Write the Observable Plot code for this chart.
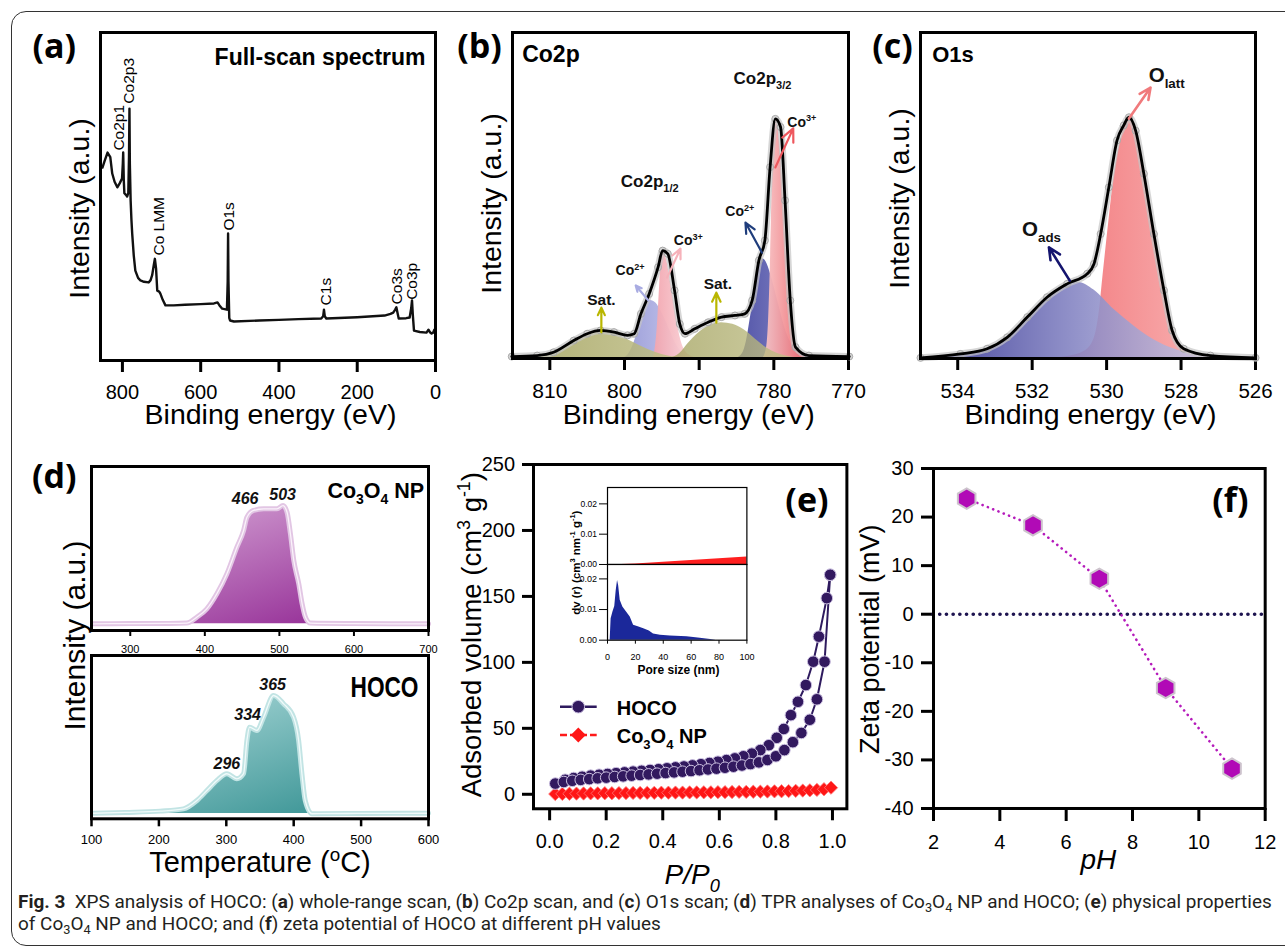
<!DOCTYPE html>
<html>
<head>
<meta charset="utf-8">
<script src="https://cdn.jsdelivr.net/npm/d3@7"></script>
<script src="https://cdn.jsdelivr.net/npm/@observablehq/plot@0.6"></script>
<style>
html, body { margin: 0; padding: 0; background: #fff; }
#fig { position: relative; width: 1285px; height: 947px; overflow: hidden; background: #fff; }
#border { position: absolute; left: 11px; top: 11px; width: 1320px; height: 935px; border: 1.3px solid #333; border-radius: 15px; box-sizing: border-box; }
</style>
</head>
<body>
<div id="fig"><div id="border"></div></div>
<svg width="0" height="0" style="position:absolute;left:0;top:0">
<defs>
 <linearGradient id="gOlive" x1="0" y1="0" x2="1" y2="0"><stop offset="0" stop-color="#a3a25e"/><stop offset="1" stop-color="#c2c18a"/></linearGradient>
 <linearGradient id="gLav" x1="0" y1="0" x2="1" y2="0"><stop offset="0" stop-color="#9598d6"/><stop offset="1" stop-color="#c8c8ee"/></linearGradient>
 <linearGradient id="gPink12" x1="0" y1="0" x2="1" y2="0"><stop offset="0" stop-color="#f2a3ad"/><stop offset="1" stop-color="#fbdfe3"/></linearGradient>
 <linearGradient id="gBlue32" x1="0" y1="0" x2="1" y2="0"><stop offset="0" stop-color="#484aa3"/><stop offset="1" stop-color="#8f91cc"/></linearGradient>
 <linearGradient id="gRed32" x1="0" y1="0" x2="1" y2="0"><stop offset="0" stop-color="#f8c9cb"/><stop offset="1" stop-color="#ec5a60"/></linearGradient>
 <linearGradient id="gPinkC" x1="0" y1="0" x2="1" y2="0"><stop offset="0" stop-color="#f27478"/><stop offset="1" stop-color="#f9bcbc"/></linearGradient>
 <linearGradient id="gBlueC" x1="0" y1="0" x2="1" y2="0"><stop offset="0" stop-color="#3c3c97" stop-opacity="0.97"/><stop offset="0.5" stop-color="#8a8ac6" stop-opacity="0.9"/><stop offset="1" stop-color="#d4d4ea" stop-opacity="0.8"/></linearGradient>
 <linearGradient id="gPurple" x1="0" y1="0" x2="1" y2="1"><stop offset="0" stop-color="#dcb2dc"/><stop offset="1" stop-color="#8a1a8c"/></linearGradient>
 <linearGradient id="gTeal" x1="0" y1="0" x2="1" y2="1"><stop offset="0" stop-color="#b6dfdf"/><stop offset="1" stop-color="#28898a"/></linearGradient>
</defs>
</svg>
<script>
// ======================= DATA =======================
// (a) XPS full-scan spectrum: [binding energy eV, intensity a.u.]
const aSpectrum = [[851,58.8],[845,61],[838,63.4],[831,62],[826,57],[820,54.5],[813,52.8],[807,54],[801,55.5],[799,60],[798,63.4],[796.5,55],[795,51],[791,50.5],[788,50],[785,51],[783.2,62],[782,76.8],[781,60],[779,48.8],[777,43],[775,38.7],[771,32],[767,27.4],[760,25.2],[754,24.4],[745,24],[733,23.8],[728,24.5],[724,26],[720,29],[717,31],[714,28],[711,21.3],[706,21],[703,20.4],[697,18.5],[690,16.8],[669,16.8],[640,17],[600,17.2],[566,17.4],[557,17.7],[552,16.8],[545,15.8],[533,15.5],[531,24],[530,38.7],[529,24],[527,13],[525,12.2],[515,11.9],[450,12.2],[400,12.4],[350,12.6],[292,12.8],[287,13.5],[285,15.5],[283,13.5],[279,12.8],[200,13.2],[130,13.7],[115,14.2],[108,14.6],[103,15.5],[100,16.2],[97,14.5],[94,12.8],[75,12.9],[66,13.1],[62,16],[60,18.3],[58,14],[55,9.1],[40,8.7],[23,8.5],[18,9.4],[14,8.6],[10,8.2],[6,8.5],[3,9.4],[1,9.2]];
const aPeakLabels = [["Co2p1",796.7,64],["Co2p3",771,78.3],["Co LMM",694,32],["O1s",514.6,39.6],["C1s",266.7,16.8],["Co3s",85.4,17.1],["Co3p",47,18.5]];
const aTicks = [800,600,400,200,0];

// (b) Co2p: envelope and fitted components [eV, intensity]
const bEnvelope = [[815.1,0.6],[811.7,0.9],[809.5,1.9],[806.8,5.5],[805,7.6],[803.2,8.6],[801.4,8.1],[799.6,7.1],[798.7,7.6],[797.8,13.7],[796.7,19.8],[795.5,28],[794.9,33.1],[794.2,32.1],[793.3,20.9],[792.6,10.6],[791.9,7.6],[790.6,9.1],[788.8,11.1],[787,12.7],[785.2,13.2],[783.9,13.7],[782.9,17.8],[782,30.1],[781.2,36.2],[780.5,58.7],[779.8,73.5],[779.1,71],[778.5,48.5],[777.8,17.8],[777.1,3.5],[775.3,0.9],[769.9,0.6]];
const bSat1 = [[813,0],[811,0.9],[809,2.6],[807,5.2],[805,7.3],[803.2,8.3],[801.5,7.7],[800,6.3],[798,4],[796,2],[794,0.7],[792,0]];
const bSat2 = [[794,0],[792.6,1.5],[791.5,4.5],[790,8],[788.5,10.3],[787,11],[785.5,10.5],[784,8.8],[782.5,6],[781,3.3],[779.5,1.5],[777.5,0.4],[776,0]];
const bCo2Half = [[800.2,0],[799.4,1.5],[798.7,5],[797.9,11],[797.1,16],[796.5,17.8],[795.8,17],[795,14],[794,9],[793,4],[792,1.2],[791,0]];
const bCo3Half = [[796.2,0],[795.9,3],[795.6,10],[795.35,20],[795.15,28],[794.9,32.5],[794.4,30.5],[793.8,23],[793.2,14.5],[792.6,7],[792,2.8],[791,0.6],[790,0]];
const bCo2ThreeHalf = [[785,0],[784.2,1.5],[783.7,5],[783.1,13],[782.5,22],[781.9,28.5],[781.4,30.5],[780.9,29],[780.2,24],[779.3,16],[778.4,8.5],[777.5,4],[776.3,1.5],[774.5,0.3],[773,0]];
const bCo3ThreeHalf = [[781.5,0],[781,3],[780.7,12],[780.45,30],[780.25,50],[780.05,66],[779.85,73],[779.5,71.5],[779.1,63],[778.7,48],[778.3,31],[777.9,17],[777.4,7],[776.8,2.5],[776,0.6],[775,0]];
const bGroupLabels = [["Co2p_{3/2}",785.4,84.3],["Co2p_{1/2}",800.5,52.5]];
const bIonLabels = [["Co^{3+}",778.2,71],["Co^{3+}",793.4,34.7],["Co^{2+}",786.5,43.6],["Co^{2+}",801.2,25.5]];
const bSatLabels = [["Sat.",805,16.3],["Sat.",789.4,21.4]];
// arrows: [peak, E1, v1, E2, v2]
const bArrows = [["Co3+ 3/2",779.8,58.6,777.4,70.6],["Co2+ 3/2",781.6,32.5,783.8,41.7],["Co3+ 1/2",794.3,24.8,792.5,33.7],["Co2+ 1/2",796.8,17.8,798.5,22.4],["Sat",803.1,8,803.1,15.6],["Sat",787.7,11,787.7,20.2]];
const bTicks = [810,800,790,780,770];

// (c) O1s
const cEnvelope = [[535,0.2],[533.93,1.4],[533.21,3],[532.67,6.5],[532.13,12.7],[531.6,18.8],[531.06,22.9],[530.52,26],[530.34,29],[530.16,38.2],[529.94,52.5],[529.72,66.9],[529.54,71.5],[529.4,74],[529.22,69.9],[529,56.7],[528.73,38.2],[528.46,20.9],[528.24,8.6],[527.93,3],[527.21,0.9],[526,0.2]];
const cOads = [[535,0.2],[533.93,1.3],[533.21,2.9],[532.67,6.2],[532.13,12.3],[531.6,18.2],[531.06,22.4],[530.77,23.4],[530.34,21],[529.8,15],[529.25,9.8],[528.72,5.7],[528.2,3],[527.64,1.3],[527,0.4],[526.3,0.1]];
const cOlatt = [[531.6,0],[531.06,0.6],[530.6,2.2],[530.34,6],[530.2,14],[530.1,25],[529.94,42],[529.8,56],[529.62,67],[529.47,72.5],[529.38,73.8],[529.22,70],[529,57],[528.73,38.5],[528.46,21],[528.24,9.2],[527.95,3.5],[527.5,1],[527,0.2],[526.5,0]];
const cLabels = [["O_{latt}",528.87,84.8],["O_{ads}",532.27,37.7]];
const cArrows = [["latt",529.4,73.6,528.82,83.1],["ads",530.99,23.9,531.55,34.1]];
const cTicks = [534,532,530,528,526];

// (d) TPR profiles [temperature °C, intensity]
const dCo3O4 = [[250,4.1],[300,4.2],[350,4.3],[375.7,4.5],[389.2,8.1],[402.6,13.2],[416.1,22.4],[429.6,34.6],[443,50.8],[452,61],[456.5,69.1],[465.4,73.2],[478.9,74.2],[496.8,74.2],[504.9,76.2],[510.3,72.1],[514.8,59],[519.3,42.7],[526,28.5],[530.5,16.3],[535,8.1],[541.7,4.5],[600,4.2],[650,4.1],[700,4.1]];
const dCo3O4Base = 4.1;
const dCo3O4Peaks = [["466",454.1,77.3],["503",504.4,79.7]];
const dHOCO = [[103,3.4],[150,3.9],[202,4.7],[236.5,6.1],[256.4,11.2],[271.2,17.3],[286.1,23.5],[300.9,27.6],[315.7,24.5],[325.6,27.6],[330.6,48],[334.5,56.1],[345.4,54.1],[355.3,62.2],[370.1,75.5],[385,70.4],[399.8,62.2],[407.3,48],[412.2,27.6],[417.1,11.2],[427,3.1],[500,3.3],[600,3.4]];
const dHOCOBase = 3.2;
const dHOCOPeaks = [["296",300.9,30.6],["334",331.7,60.2],["365",368.8,78.6]];
const dTopTicks = [300,400,500,600,700];
const dBottomTicks = [100,200,300,400,500,600];

// (e) N2 isotherms [P/P0, adsorbed volume]
const hocoAds = [[0.02,8.1],[0.05,9.3],[0.08,10.2],[0.11,10.9],[0.14,11.5],[0.17,12.1],[0.2,12.6],[0.23,13.1],[0.26,13.6],[0.29,14.1],[0.32,14.6],[0.35,15.1],[0.38,15.6],[0.41,16.1],[0.44,16.6],[0.47,17.1],[0.5,17.6],[0.53,18.2],[0.56,18.8],[0.59,19.4],[0.62,20.1],[0.65,20.9],[0.68,21.8],[0.71,22.9],[0.74,24.2],[0.77,26],[0.8,28.8],[0.83,33.5],[0.86,39.5],[0.89,46.5],[0.92,56.5],[0.945,72],[0.972,100.5],[0.992,166.4]];
const hocoDes = [[0.992,166.4],[0.98,148.7],[0.952,119.5],[0.932,100.5],[0.906,82.8],[0.878,70.1],[0.853,60],[0.828,49.5],[0.803,42.8],[0.775,37.2],[0.745,33.5],[0.715,30.8],[0.685,28.8],[0.655,27.2],[0.625,25.9],[0.595,24.7],[0.565,23.7],[0.535,22.8],[0.505,21.9],[0.475,21.1],[0.445,20.4],[0.415,19.7],[0.385,19],[0.355,18.4],[0.325,17.8],[0.295,17.2],[0.265,16.6],[0.235,16],[0.205,15.4],[0.175,14.8],[0.145,14.1],[0.115,13.3],[0.085,12.3],[0.055,11]];
const co3o4Iso = [[0.02,0.2],[0.045,0.3],[0.07,0.4],[0.095,0.5],[0.12,0.6],[0.145,0.7],[0.17,0.7],[0.195,0.8],[0.22,0.8],[0.245,0.9],[0.27,0.9],[0.295,1],[0.32,1],[0.345,1.1],[0.37,1.1],[0.395,1.2],[0.42,1.2],[0.445,1.3],[0.47,1.3],[0.495,1.4],[0.52,1.4],[0.545,1.5],[0.57,1.5],[0.595,1.6],[0.62,1.6],[0.645,1.7],[0.67,1.8],[0.695,1.8],[0.72,1.9],[0.745,2],[0.77,2.1],[0.795,2.2],[0.82,2.3],[0.845,2.4],[0.87,2.6],[0.895,2.8],[0.92,3],[0.945,3.3],[0.97,3.8],[0.995,5]];
const eXTicks = [0,0.2,0.4,0.6,0.8,1.0];
const eYTicks = [0,50,100,150,200,250];
const eSeries = ["HOCO","Co_{3}O_{4} NP"];
// inset: pore size distribution [nm, dV]
const poreCo3O4 = [[0,0],[10,0],[20,0.0002],[40,0.0007],[60,0.0013],[80,0.0019],[100,0.0025]];
const poreHOCO = [[1.9,0],[2.6,0.007],[3.9,0.0092],[5.2,0.011],[6.2,0.016],[7.2,0.0195],[8,0.0178],[9.1,0.013],[11,0.0108],[13.5,0.0093],[16.3,0.0076],[18.7,0.0049],[22,0.0044],[26,0.0037],[30,0.003],[33,0.002],[38,0.0016],[45,0.0014],[57,0.0011],[65,0.0007],[74,0.0002],[78,0]];
const insetXTicks = [0,20,40,60,80,100];
const insetYTicks = [0,0.01,0.02];

// (f) zeta potential
const pH = [3,5,7,9,11];
const zeta = [23.8,18.3,7.3,-15.2,-31.8];
const fXTicks = [2,4,6,8,10,12];
const fYTicks = [-40,-30,-20,-10,0,10,20,30];

// ======================= HELPERS =======================
const fig = document.getElementById("fig");
const FONT = "'Liberation Sans', Arial, Helvetica, sans-serif";
const LETTERFONT = "'Open Sans', 'Liberation Sans', sans-serif";
const pts = (arr, kx, ky) => arr.map(([a, b]) => ({[kx]: a, [ky]: b}));
const lab = (arr, kx, ky) => arr.map(([t, a, b]) => ({t, [kx]: a, [ky]: b}));

const diamondSym = {draw(ctx, size) { const r = Math.sqrt(size) * 0.62625; ctx.moveTo(0, -r); ctx.lineTo(r, 0); ctx.lineTo(0, r); ctx.lineTo(-r, 0); ctx.closePath(); }};
const hexSym = {draw(ctx, size) { const rx = Math.sqrt(size / Math.PI), ry = rx * 2 / Math.sqrt(3), hy = ry / 2; ctx.moveTo(0, ry); ctx.lineTo(rx, hy); ctx.lineTo(rx, -hy); ctx.lineTo(0, -ry); ctx.lineTo(-rx, -hy); ctx.lineTo(-rx, hy); ctx.closePath(); }};

function richText(root) {
  root.querySelectorAll("text").forEach(t => {
    const s = t.textContent;
    if (!/[_^]\{/.test(s)) return;
    const fs = parseFloat(getComputedStyle(t).fontSize) || 12;
    const parts = []; const re = /([_^])\{([^}]*)\}/g; let last = 0, m;
    while ((m = re.exec(s))) { if (m.index > last) parts.push(["", s.slice(last, m.index)]); parts.push([m[1], m[2]]); last = re.lastIndex; }
    if (last < s.length) parts.push(["", s.slice(last)]);
    while (t.firstChild) t.removeChild(t.firstChild);
    let cur = 0;
    for (const [k, txt] of parts) {
      const ts = document.createElementNS("http://www.w3.org/2000/svg", "tspan");
      const target = k === "_" ? fs * 0.3 : k === "^" ? -fs * 0.4 : 0;
      if (target !== cur) ts.setAttribute("dy", (target - cur).toFixed(2));
      cur = target;
      if (k) ts.setAttribute("font-size", (fs * 0.65).toFixed(2));
      ts.textContent = txt;
      t.appendChild(ts);
    }
  });
}
function thickTicks(svg, w) {
  svg.querySelectorAll('g[aria-label$="tick"]').forEach(g => { g.setAttribute("stroke-width", w); g.querySelectorAll("path,line").forEach(p => p.setAttribute("stroke-width", w)); });
  svg.querySelectorAll('g[aria-label$="axis"] .tick line').forEach(l => l.setAttribute("stroke-width", w));
}
function panel({L, T, R, B, x, y, marks, fontSize = 20, tickW = 3}) {
  const svg = Plot.plot({
    width: R - L, height: B - T,
    marginLeft: 0, marginRight: 0, marginTop: 0, marginBottom: 0,
    style: {fontFamily: FONT, fontSize: fontSize + "px", background: "transparent", overflow: "visible", color: "#000", maxWidth: "none"},
    x, y, marks
  });
  svg.style.position = "absolute"; svg.style.left = L + "px"; svg.style.top = T + "px";
  fig.appendChild(svg);
  richText(svg);
  thickTicks(svg, tickW);
  return svg;
}
const ftext = (s, o) => Plot.text([s], {text: d => d, fill: "#000", ...o});
const xTitle = (s, dx, dy, fs, o = {}) => ftext(s, {frameAnchor: "bottom", textAnchor: "middle", lineAnchor: "bottom", dx, dy, fontSize: fs, ...o});
const yTitle = (s, dx, dy, fs, o = {}) => ftext(s, {frameAnchor: "left", rotate: -90, textAnchor: "middle", lineAnchor: "bottom", dx, dy, fontSize: fs, ...o});
const letter = (s, anchor, dx, dy, textAnchor = "start") => ftext(s, {frameAnchor: anchor, textAnchor, lineAnchor: "bottom", dx, dy, fontSize: 34, fontWeight: "bold", fontFamily: LETTERFONT});
const fmtInt = d => String(d);

// ======================= (a) =======================
panel({L: 100, T: 32, R: 435, B: 360, fontSize: 20,
  x: {domain: [856, 0], ticks: aTicks, tickSize: 12, tickPadding: 12.5, tickFormat: fmtInt, label: null},
  y: {domain: [0, 100], axis: null},
  marks: [
    Plot.line(pts(aSpectrum, "E", "I"), {x: "E", y: "I", stroke: "#111", strokeWidth: 2.4, strokeLinejoin: "round"}),
    Plot.text(lab(aPeakLabels, "E", "I"), {x: "E", y: "I", text: "t", rotate: -90, textAnchor: "start", lineAnchor: "bottom", fontSize: 15.5, fill: "#000"}),
    ftext("Full-scan spectrum", {frameAnchor: "top-right", textAnchor: "end", lineAnchor: "bottom", dx: -10, dy: 32.3, fontSize: 23, fontWeight: "bold"}),
    xTitle("Binding energy (eV)", 2.5, 63, 28.5),
    yTitle("Intensity (a.u.)", -11.7, 12, 28.5),
    letter("(a)", "top-left", -68, 25),
    Plot.frame({stroke: "#000", strokeWidth: 3})
  ]});

// ======================= (b) =======================
const bArrowColor = {"Co3+ 3/2": "#ee585e", "Co2+ 3/2": "#1f3d7c", "Co3+ 1/2": "#f6b2ba", "Co2+ 1/2": "#a9ace2", "Sat": "#b9b600"};
const bArrowData = bArrows.map(([k, E1, v1, E2, v2]) => ({k, E1, v1, E2, v2}));
const area = (arr, fill, op) => Plot.areaY(pts(arr, "E", "v"), {x: "E", y: "v", fill, fillOpacity: op, curve: "monotone-x"});
panel({L: 512, T: 32, R: 848, B: 358, fontSize: 21,
  x: {domain: [815, 770], ticks: bTicks, tickSize: 12, tickPadding: 12.5, tickFormat: fmtInt, label: null},
  y: {domain: [0, 100], axis: null},
  marks: [
    area(bCo2Half, "url(#gLav)", 0.95),
    area(bCo3Half, "url(#gPink12)", 0.95),
    area(bCo2ThreeHalf, "url(#gBlue32)", 0.95),
    area(bCo3ThreeHalf, "url(#gRed32)", 0.95),
    area(bSat1, "url(#gOlive)", 0.85),
    area(bSat2, "url(#gOlive)", 0.78),
    Plot.line(pts(bEnvelope, "E", "v"), {x: "E", y: "v", stroke: "#c4c4c4", strokeWidth: 7, strokeOpacity: 0.7, curve: "monotone-x"}),
    Plot.dot(pts(bEnvelope, "E", "v"), {x: "E", y: "v", r: 3.5, stroke: "#a8a8a8", strokeWidth: 1}),
    Plot.line(pts(bEnvelope, "E", "v"), {x: "E", y: "v", stroke: "#000", strokeWidth: 2.8, curve: "monotone-x"}),
    ...Object.keys(bArrowColor).map(k => Plot.arrow(bArrowData.filter(d => d.k === k), {x1: "E1", y1: "v1", x2: "E2", y2: "v2", stroke: bArrowColor[k], strokeWidth: 2.2, headLength: 10, headAngle: 50})),
    Plot.text(lab(bGroupLabels, "E", "v"), {x: "E", y: "v", text: "t", textAnchor: "start", lineAnchor: "bottom", fontSize: 17, fontWeight: "bold", fill: "#111"}),
    Plot.text(lab(bIonLabels, "E", "v"), {x: "E", y: "v", text: "t", textAnchor: "start", lineAnchor: "bottom", fontSize: 14, fontWeight: "bold", fill: "#111"}),
    Plot.text(lab(bSatLabels, "E", "v"), {x: "E", y: "v", text: "t", textAnchor: "start", lineAnchor: "bottom", fontSize: 15.5, fontWeight: "bold", fill: "#111"}),
    ftext("Co2p", {frameAnchor: "top-left", textAnchor: "start", lineAnchor: "bottom", dx: 9.7, dy: 29.7, fontSize: 23, fontWeight: "bold"}),
    xTitle("Binding energy (eV)", 8.3, 65, 28.5),
    yTitle("Intensity (a.u.)", -11.7, 8, 28.5),
    letter("(b)", "top-left", -55.3, 25.5),
    Plot.frame({stroke: "#000", strokeWidth: 3})
  ]});

// ======================= (c) =======================
const cArrowColor = {latt: "#f07a7c", ads: "#14146e"};
const cArrowData = cArrows.map(([k, E1, v1, E2, v2]) => ({k, E1, v1, E2, v2}));
panel({L: 920, T: 32, R: 1255, B: 358, fontSize: 20.5,
  x: {domain: [535, 526], ticks: cTicks, tickSize: 12, tickPadding: 12.5, tickFormat: fmtInt, label: null},
  y: {domain: [0, 100], axis: null},
  marks: [
    area(cOlatt, "url(#gPinkC)", 1),
    area(cOads, "url(#gBlueC)", 1),
    Plot.line(pts(cEnvelope, "E", "v"), {x: "E", y: "v", stroke: "#c4c4c4", strokeWidth: 7, strokeOpacity: 0.7, curve: "monotone-x"}),
    Plot.dot(pts(cEnvelope, "E", "v"), {x: "E", y: "v", r: 3.5, stroke: "#a8a8a8", strokeWidth: 1}),
    Plot.line(pts(cEnvelope, "E", "v"), {x: "E", y: "v", stroke: "#000", strokeWidth: 2.8, curve: "monotone-x"}),
    ...Object.keys(cArrowColor).map(k => Plot.arrow(cArrowData.filter(d => d.k === k), {x1: "E1", y1: "v1", x2: "E2", y2: "v2", stroke: cArrowColor[k], strokeWidth: 2.6, headLength: 11, headAngle: 50})),
    Plot.text(lab(cLabels, "E", "v"), {x: "E", y: "v", text: "t", textAnchor: "start", lineAnchor: "bottom", fontSize: 20.5, fontWeight: "bold", fill: "#111"}),
    ftext("O1s", {frameAnchor: "top-left", textAnchor: "start", lineAnchor: "bottom", dx: 11.7, dy: 29.7, fontSize: 22, fontWeight: "bold"}),
    xTitle("Binding energy (eV)", 2.5, 65, 28.5),
    yTitle("Intensity (a.u.)", -11.3, 3, 28.5),
    letter("(c)", "top-left", -48.3, 25.5),
    Plot.frame({stroke: "#000", strokeWidth: 3})
  ]});

// ======================= (d) =======================
panel({L: 91.3, T: 466, R: 428.3, B: 630, fontSize: 11, tickW: 2,
  x: {domain: [248, 700], ticks: dTopTicks, tickSize: 6, tickPadding: 8.5, tickFormat: fmtInt, label: null},
  y: {domain: [0, 100], axis: null},
  marks: [
    Plot.areaY(pts(dCo3O4, "T", "v"), {x: "T", y1: () => dCo3O4Base, y2: "v", fill: "url(#gPurple)", curve: "monotone-x"}),
    Plot.line(pts(dCo3O4, "T", "v"), {x: "T", y: "v", stroke: "#e2c6e4", strokeWidth: 5, curve: "monotone-x"}),
    Plot.line(pts(dCo3O4, "T", "v"), {x: "T", y: "v", stroke: "#faf2fa", strokeWidth: 1.3, curve: "monotone-x"}),
    Plot.text(lab(dCo3O4Peaks, "T", "v"), {x: "T", y: "v", text: "t", textAnchor: "middle", lineAnchor: "bottom", fontSize: 16, fontWeight: "bold", fontStyle: "italic", fill: "#111"}),
    ftext("Co_{3}O_{4} NP", {frameAnchor: "top-right", textAnchor: "end", lineAnchor: "bottom", dx: -4.3, dy: 31.3, fontSize: 21.5, fontWeight: "bold"}),
    ftext("Intensity (a.u.)", {frameAnchor: "bottom-left", rotate: -90, textAnchor: "middle", lineAnchor: "bottom", dx: -6.5, dy: 5, fontSize: 30}),
    letter("(d)", "top-left", -59.6, 21),
    Plot.frame({stroke: "#000", strokeWidth: 3})
  ]});
const dBot = panel({L: 91.3, T: 655, R: 428.3, B: 818.3, fontSize: 13, tickW: 2.5,
  x: {domain: [100, 600], ticks: dBottomTicks, tickSize: 8, tickPadding: 8, tickFormat: fmtInt, label: null},
  y: {domain: [0, 100], axis: null},
  marks: [
    Plot.areaY(pts(dHOCO, "T", "v"), {x: "T", y1: () => dHOCOBase, y2: "v", fill: "url(#gTeal)", curve: "monotone-x"}),
    Plot.line(pts(dHOCO, "T", "v"), {x: "T", y: "v", stroke: "#c2e4e4", strokeWidth: 5, curve: "monotone-x"}),
    Plot.line(pts(dHOCO, "T", "v"), {x: "T", y: "v", stroke: "#f0fafa", strokeWidth: 1.3, curve: "monotone-x"}),
    Plot.text(lab(dHOCOPeaks, "T", "v"), {x: "T", y: "v", text: "t", textAnchor: "middle", lineAnchor: "bottom", fontSize: 16, fontWeight: "bold", fontStyle: "italic", fill: "#111"}),
    ftext("HOCO", {frameAnchor: "top-right", textAnchor: "end", lineAnchor: "bottom", dx: -10, dy: 41.7, fontSize: 29, fontWeight: "bold"}),
    xTitle("Temperature (^{o}C)", 0, 53.5, 29),
    Plot.frame({stroke: "#000", strokeWidth: 3})
  ]});
dBot.querySelectorAll("text").forEach(t => { if (t.textContent === "HOCO") { t.setAttribute("textLength", 68); t.setAttribute("lengthAdjust", "spacingAndGlyphs"); } });

// ======================= (e) =======================
const isoPts = arr => pts(arr, "P", "V");
panel({L: 533.3, T: 464, R: 846.7, B: 808.3, fontSize: 20,
  x: {domain: [-0.057, 1.051], ticks: eXTicks, tickSize: 12, tickPadding: 13, tickFormat: d => d.toFixed(1), label: null},
  y: {domain: [-11, 250], ticks: eYTicks, tickSize: 11, tickPadding: 7.5, tickFormat: fmtInt, label: null},
  marks: [
    Plot.line(isoPts(co3o4Iso), {x: "P", y: "V", stroke: "#ff1a1a", strokeWidth: 2}),
    Plot.dot(isoPts(co3o4Iso), {x: "P", y: "V", symbol: diamondSym, r: 6, fill: "#ff1616", stroke: "#ff7a7a", strokeWidth: 0.8}),
    Plot.line(isoPts(hocoDes), {x: "P", y: "V", stroke: "#2e1a5e", strokeWidth: 2}),
    Plot.line(isoPts(hocoAds), {x: "P", y: "V", stroke: "#2e1a5e", strokeWidth: 2}),
    Plot.dot(isoPts(hocoDes), {x: "P", y: "V", r: 5.8, fill: "#32195f", stroke: "#cbc0e0", strokeWidth: 1}),
    Plot.dot(isoPts(hocoAds), {x: "P", y: "V", r: 5.8, fill: "#32195f", stroke: "#cbc0e0", strokeWidth: 1}),
    letter("(e)", "top-right", -18.4, 48, "end"),
    xTitle("P/P_{0}", 2, 75, 28, {fontStyle: "italic"}),
    yTitle("Adsorbed volume (cm^{3} g^{-1})", -52.3, -2, 27.5),
    Plot.frame({stroke: "#000", strokeWidth: 3})
  ]});

// inset (pore size distribution)
panel({L: 607.3, T: 487.3, R: 746.7, B: 564.3, fontSize: 8.5, tickW: 1,
  x: {domain: [0, 100], axis: null},
  y: {domain: [0, 0.0254], ticks: insetYTicks, tickSize: 8, tickPadding: 2.5, tickFormat: d => d.toFixed(2), label: null},
  marks: [
    Plot.frame({fill: "#fff", stroke: "none"}),
    Plot.areaY(pts(poreCo3O4, "d", "v"), {x: "d", y: "v", fill: "#ff1f1f"}),
    Plot.ruleY([0], {stroke: "#000", strokeWidth: 1}),
    Plot.frame({stroke: "#000", strokeWidth: 1.2})
  ]});
panel({L: 607.3, T: 564.3, R: 746.7, B: 640, fontSize: 9, tickW: 1,
  x: {domain: [0, 100], ticks: insetXTicks, tickSize: 4, tickPadding: 9, tickFormat: fmtInt, label: null},
  y: {domain: [0, 0.0247], ticks: insetYTicks, tickSize: 8, tickPadding: 2.5, tickFormat: d => d.toFixed(2), label: null},
  marks: [
    Plot.frame({fill: "#fff", stroke: "none"}),
    Plot.areaY(pts(poreHOCO, "d", "v"), {x: "d", y: "v", fill: "#1b289a"}),
    ftext("Pore size (nm)", {frameAnchor: "bottom", textAnchor: "middle", lineAnchor: "bottom", dx: 1.3, dy: 34, fontSize: 12, fontWeight: "bold"}),
    ftext("dv (r) (cm^{3} nm^{-1} g^{-1})", {frameAnchor: "top-left", rotate: -90, textAnchor: "middle", lineAnchor: "bottom", dx: -28, dy: -1.8, fontSize: 11.5, fontWeight: "bold"}),
    Plot.frame({stroke: "#000", strokeWidth: 1.2})
  ]});

// ======================= (f) =======================
const zetaPts = pH.map((p, i) => ({pH: p, z: zeta[i]}));
panel({L: 933.3, T: 468.3, R: 1265, B: 808.3, fontSize: 20,
  x: {domain: [2, 12], ticks: fXTicks, tickSize: 13, tickPadding: 13.5, tickFormat: fmtInt, label: null},
  y: {domain: [-40, 30], ticks: fYTicks, tickSize: 12, tickPadding: 8, tickFormat: fmtInt, label: null},
  marks: [
    Plot.ruleY([0], {stroke: "#1e1450", strokeWidth: 3.6, strokeDasharray: "0.1 6.6", strokeLinecap: "round"}),
    Plot.line(zetaPts, {x: "pH", y: "z", stroke: "#b51bbb", strokeWidth: 2.6, strokeDasharray: "0.1 5.6", strokeLinecap: "round"}),
    Plot.dot(zetaPts, {x: "pH", y: "z", symbol: hexSym, r: 8.8, fill: "#b10ab6", stroke: "#cdc3cd", strokeWidth: 2}),
    letter("(f)", "top-right", -16.7, 43.7, "end"),
    xTitle("pH", -1, 61, 28, {fontStyle: "italic"}),
    yTitle("Zeta potential (mV)", -55, 0.7, 27),
    Plot.frame({stroke: "#000", strokeWidth: 3})
  ]});

// ======================= legend (e) =======================
const leg = d3.select(fig).append("svg").attr("width", 230).attr("height", 70)
  .style("position", "absolute").style("left", "553px").style("top", "690px").style("overflow", "visible")
  .style("font-family", FONT);
const legRows = [{name: eSeries[0], y: 16.7, kind: "hoco"}, {name: eSeries[1], y: 45, kind: "co"}];
legRows.forEach(r => {
  if (r.kind === "hoco") {
    leg.append("line").attr("x1", 7).attr("x2", 43.7).attr("y1", r.y).attr("y2", r.y).attr("stroke", "#2e1a5e").attr("stroke-width", 2.5);
    leg.append("circle").attr("cx", 25.3).attr("cy", r.y).attr("r", 6.3).attr("fill", "#32195f").attr("stroke", "#cbc0e0");
  } else {
    leg.append("line").attr("x1", 7).attr("x2", 43.7).attr("y1", r.y).attr("y2", r.y).attr("stroke", "#ff1a1a").attr("stroke-width", 2.5).attr("stroke-dasharray", "7 3");
    leg.append("path").attr("d", `M25.3,${r.y - 7.5}L32.8,${r.y}L25.3,${r.y + 7.5}L17.8,${r.y}Z`).attr("fill", "#ff1616");
  }
  leg.append("text").attr("x", 63.7).attr("y", r.y + 8).attr("font-size", 20).attr("font-weight", "bold").text(r.name);
});
richText(leg.node());

// ======================= caption =======================
const capSvg = d3.select(fig).append("svg").attr("width", 1285).attr("height", 67)
  .style("position", "absolute").style("left", "0px").style("top", "880px").style("overflow", "visible");
const capG = capSvg.append("g").attr("font-family", "Roboto, 'Noto Sans', sans-serif").attr("font-size", 18.5).attr("fill", "#231f20");
const capLines = [
  "**Fig. 3**\u00a0\u00a0XPS analysis of HOCO: (**a**) whole-range scan, (**b**) Co2p scan, and (**c**) O1s scan; (**d**) TPR analyses of Co_{3}O_{4} NP and HOCO; (**e**) physical properties",
  "of Co_{3}O_{4} NP and HOCO; and (**f**) zeta potential of HOCO at different pH values"
];
const capBaselines = [28, 50];
const capTexts = capLines.map((line, i) => {
  const t = capG.append("text").attr("x", 0).attr("y", capBaselines[i]).style("white-space", "pre");
  const toks = line.split(/(\*\*[^*]+\*\*|_\{[^}]+\})/).filter(s => s.length);
  let shift = 0;
  toks.forEach(tok => {
    let ts;
    if (tok.startsWith("_{")) { ts = t.append("tspan").attr("font-size", 12.5).text(tok.slice(2, -1)); if (shift !== 4) ts.attr("dy", 4 - shift); shift = 4; return; }
    if (tok.startsWith("**")) ts = t.append("tspan").attr("font-weight", "bold").text(tok.slice(2, -2));
    else ts = t.append("tspan").text(tok);
    if (shift !== 0) ts.attr("dy", -shift);
    shift = 0;
  });
  return t;
});
const len1 = capTexts[0].node().getComputedTextLength();
const sx = len1 > 0 ? 1254 / len1 : 1;
capG.attr("transform", `translate(18,0) scale(${sx},1)`);
</script>
</body>
</html>
